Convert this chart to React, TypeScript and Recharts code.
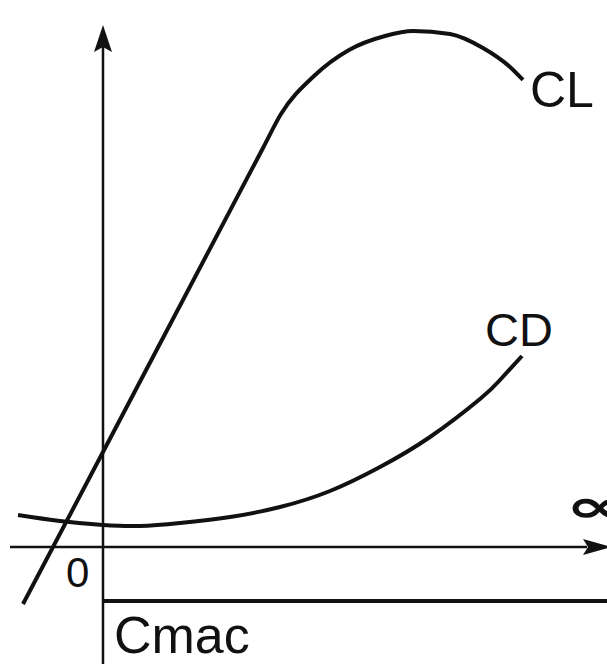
import React from 'react';
import { LineChart, Line, XAxis, YAxis, ReferenceLine, ReferenceDot } from 'recharts';

// Angle of attack (alpha) and coefficient values
const clAlpha = [-4.0, 0, 8.0, 8.9, 10.55, 12.3, 14.1, 15.5, 17.35, 19.0, 20.35, 21.0];
const clValues = [-0.19, 0.3167, 1.33, 1.4433, 1.57, 1.6567, 1.7033, 1.72, 1.71, 1.6633, 1.6, 1.5567];

const cdAlpha = [-4.25, -2.15, 0, 1.85, 3.85, 6.35, 8.85, 11.35, 13.85, 16.35, 18.85, 19.85, 20.95];
const cdValues = [0.1067, 0.0867, 0.0733, 0.07, 0.08, 0.1, 0.1333, 0.1867, 0.2667, 0.3667, 0.4933, 0.5567, 0.6367];

const cmacAlpha = [0, 25.2];
const cmacValues = [-0.18, -0.18];

const seriesLabels = ['CL', 'CD', 'Cmac'];
const originLabel = '0';
const alphaLabel = '\u221D';

const clData = clAlpha.map((a, i) => ({ alpha: a, value: clValues[i] }));
const cdData = cdAlpha.map((a, i) => ({ alpha: a, value: cdValues[i] }));
const cmacData = cmacAlpha.map((a, i) => ({ alpha: a, value: cmacValues[i] }));

const INK = '#111';
const FONT = '"Liberation Sans", Arial, Helvetica, sans-serif';

const UpArrow = (p: any) => (
  <polygon
    points={`${p.cx},${p.cy} ${p.cx - 9},${p.cy + 27} ${p.cx},${p.cy + 22} ${p.cx + 9},${p.cy + 27}`}
    fill={INK}
  />
);

const RightArrow = (p: any) => (
  <polygon
    points={`${p.cx + 28},${p.cy} ${p.cx},${p.cy - 8} ${p.cx + 5},${p.cy} ${p.cx},${p.cy + 8}`}
    fill={INK}
  />
);

const makeText = (text: string, size: number, family = FONT, weight: any = 'normal', sx = 1) => (p: any) => (
  <text
    transform={`translate(${p.cx},${p.cy}) scale(${sx},1)`}
    x={0}
    y={0}
    fontSize={size}
    fontFamily={family}
    fontWeight={weight}
    fill={INK}
    textAnchor="start"
  >
    {text}
  </text>
);

export default function App() {
  return (
    <div style={{ position: 'absolute', left: 0, top: 0, background: '#fff' }}>
      <LineChart width={607} height={664} margin={{ top: 0, right: 0, bottom: 0, left: 0 }}>
        <XAxis type="number" dataKey="alpha" domain={[-5.15, 25.2]} allowDataOverflow hide />
        <YAxis type="number" dataKey="value" domain={[-0.39, 1.82333]} allowDataOverflow hide />

        {/* axes */}
        <ReferenceLine
          segment={[{ x: 0, y: -0.39 }, { x: 0, y: 1.68 }]}
          stroke={INK}
          strokeWidth={2.5}
          ifOverflow="visible"
        />
        <ReferenceLine
          segment={[{ x: -4.65, y: 0 }, { x: 24.2, y: 0 }]}
          stroke={INK}
          strokeWidth={2.5}
          ifOverflow="visible"
        />
        <ReferenceDot x={0} y={1.74} r={0} shape={UpArrow} />
        <ReferenceDot x={24.0} y={0} r={0} shape={RightArrow} />

        <Line data={cmacData} dataKey="value" type="linear" stroke={INK} strokeWidth={4} dot={false} activeDot={false} isAnimationActive={false} />
        <Line data={cdData} dataKey="value" type="natural" stroke={INK} strokeWidth={4} dot={false} activeDot={false} isAnimationActive={false} />
        <Line data={clData} dataKey="value" type="monotone" stroke={INK} strokeWidth={4} dot={false} activeDot={false} isAnimationActive={false} />

        {/* labels */}
        <ReferenceDot x={21.35} y={1.4667} r={0} shape={makeText(seriesLabels[0], 50)} />
        <ReferenceDot x={19.1} y={0.67} r={0} shape={makeText(seriesLabels[1], 47)} />
        <ReferenceDot x={0.55} y={-0.3533} r={0} shape={makeText(seriesLabels[2], 52)} />
        <ReferenceDot x={-1.85} y={-0.1333} r={0} shape={makeText(originLabel, 42)} />
        <ReferenceDot x={23.1} y={0.0833} r={0} shape={makeText(alphaLabel, 46, '"DejaVu Sans", sans-serif', 'bold', 1.8)} />
      </LineChart>
    </div>
  );
}
